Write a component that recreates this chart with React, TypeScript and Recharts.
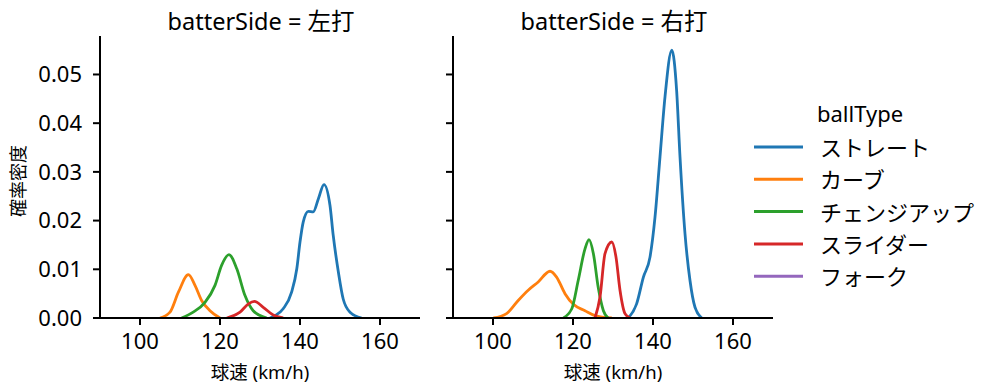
import React from "react";
import { LineChart, Line, XAxis, YAxis } from "recharts";

const ballTypes = ["ストレート", "カーブ", "チェンジアップ", "スライダー", "フォーク"];
const colors = ["#1f77b4", "#ff7f0e", "#2ca02c", "#d62728", "#9467bd"];
const xTicks = [100, 120, 140, 160];
const yTicks = [0, 0.01, 0.02, 0.03, 0.04, 0.05];
const panelTitles = ["batterSide = 左打", "batterSide = 右打"];

type P = { x: number; y: number };
const pts = (arr: number[][]): P[] => arr.map(([x, y]) => ({ x, y }));

// 左打
const leftStraight = pts([
  [132.5, 0], [134, 0.0006], [135.8, 0.0019], [137.9, 0.0053], [139.2, 0.0101], [140, 0.0156],
  [140.8, 0.0197], [142.1, 0.0219], [143.3, 0.0218], [144.6, 0.0245], [146.0, 0.0274],
  [147.5, 0.0231], [148.3, 0.017], [149.6, 0.0094], [150.8, 0.0039], [152.5, 0.0012], [155.4, 0],
]);
const leftCurve = pts([
  [105, 0], [107.5, 0.0012], [109.6, 0.0053], [112.1, 0.0089], [113.75, 0.0067], [115.4, 0.0036],
  [117.5, 0.0015], [120, 0],
]);
const leftChange = pts([
  [110.4, 0], [113.3, 0.0012], [116.25, 0.0032], [118.75, 0.0067], [120.4, 0.0108], [122.25, 0.013],
  [124.2, 0.0101], [126.25, 0.0046], [128.3, 0.0015], [131.7, 0],
]);
const leftSlider = pts([
  [121.7, 0], [125, 0.0012], [127.1, 0.0029], [128.6, 0.0034], [130.8, 0.0022], [133.3, 0.0006], [135.8, 0],
]);
const leftFork: P[] = [];

// 右打
const rightStraight = pts([
  [133.8, 0], [135.9, 0.0029], [137.6, 0.0084], [139.25, 0.0125], [140.5, 0.0207], [141.75, 0.0331],
  [143, 0.0454], [144.7, 0.055], [145.9, 0.0468], [146.75, 0.0331], [148, 0.0173], [149.25, 0.0077],
  [150.5, 0.0022], [152.2, 0],
]);
const rightCurve = pts([
  [100.1, 0], [103.4, 0.0009], [106.3, 0.0036], [108.8, 0.0057], [111.3, 0.0074], [114.25, 0.0096],
  [115.9, 0.0084], [118, 0.005], [120.1, 0.0028], [123, 0.0015], [125.5, 0.0005], [129.7, 0],
]);
const rightChange = pts([
  [117.6, 0], [119.7, 0.0019], [121.3, 0.0077], [123, 0.0142], [124, 0.0161], [125.1, 0.0132],
  [126.3, 0.0063], [127.6, 0.0015], [128.8, 0],
]);
const rightSlider = pts([
  [125.5, 0], [126.75, 0.0043], [128, 0.0132], [129.7, 0.0156], [130.75, 0.0125], [131.75, 0.0057],
  [133, 0.0009], [134.25, 0],
]);
const rightFork: P[] = [];

const panels = [
  [leftStraight, leftCurve, leftChange, leftSlider, leftFork],
  [rightStraight, rightCurve, rightChange, rightSlider, rightFork],
];

const FONT = '"Noto Sans", "Noto Sans CJK JP", sans-serif';
const axisStroke = { stroke: "#000", strokeWidth: 2 };

function Panel({ idx }: { idx: number }) {
  const series = panels[idx];
  const left = idx === 0;
  const yw = left ? 100 : 20;
  return (
    <LineChart
      width={left ? 430 : 350}
      height={391}
      margin={{ top: 36, right: 10, bottom: 0, left: 0 }}
    >
      <XAxis
        type="number"
        dataKey="x"
        domain={[90, 170]}
        ticks={xTicks}
        allowDataOverflow
        height={73}
        axisLine={axisStroke}
        tickLine={axisStroke}
        tickSize={7}
        tickMargin={8}
        tick={{ fontSize: 22, fill: "#000" }}
        label={{ value: "球速 (km/h)", position: "insideBottom", offset: 12, fontSize: 18.5, fill: "#000" }}
      />
      <YAxis
        type="number"
        dataKey="y"
        domain={[0, 0.0579]}
        ticks={yTicks}
        allowDataOverflow
        width={yw}
        axisLine={axisStroke}
        tickLine={axisStroke}
        tickSize={7}
        tickMargin={11}
        tick={{ fontSize: 22, fill: "#000" }}
        tickFormatter={(v: number) => (left ? v.toFixed(2) : "")}
        label={
          left
            ? {
                content: () => (
                  <text
                    x={18}
                    y={181}
                    transform="rotate(-90, 18, 181)"
                    textAnchor="middle"
                    dominantBaseline="central"
                    fontSize={18}
                    fill="#000"
                  >
                    確率密度
                  </text>
                ),
              }
            : undefined
        }
      />
      {series.map((d, i) =>
        d.length ? (
          <Line
            key={ballTypes[i]}
            data={d}
            dataKey="y"
            name={ballTypes[i]}
            type="monotone"
            stroke={colors[i]}
            strokeWidth={2.8}
            dot={false}
            activeDot={false}
            isAnimationActive={false}
          />
        ) : null
      )}
    </LineChart>
  );
}

export default function App() {
  return (
    <div
      style={{
        position: "absolute",
        left: 0,
        top: 0,
        width: 999,
        height: 391,
        background: "#fff",
        fontFamily: FONT,
      }}
    >
      <div style={{ position: "absolute", left: 0, top: 0 }}>
        <Panel idx={0} />
      </div>
      <div style={{ position: "absolute", left: 433, top: 0 }}>
        <Panel idx={1} />
      </div>
      <svg
        width={999}
        height={391}
        style={{ position: "absolute", left: 0, top: 0, pointerEvents: "none" }}
      >
        <text x={261} y={21} textAnchor="middle" dominantBaseline="central" fontSize={23.5} fill="#000">
          {panelTitles[0]}
        </text>
        <text x={614} y={21} textAnchor="middle" dominantBaseline="central" fontSize={23.5} fill="#000">
          {panelTitles[1]}
        </text>
        <text x={817} y={113} dominantBaseline="central" fontSize={22} fill="#000">
          ballType
        </text>
        {ballTypes.map((b, i) => (
          <g key={b}>
            <line x1={754} x2={803} y1={147 + i * 32.3} y2={147 + i * 32.3} stroke={colors[i]} strokeWidth={3} />
            <text x={820} y={147 + i * 32.3} dominantBaseline="central" fontSize={22} fill="#000">
              {b}
            </text>
          </g>
        ))}
      </svg>
    </div>
  );
}
